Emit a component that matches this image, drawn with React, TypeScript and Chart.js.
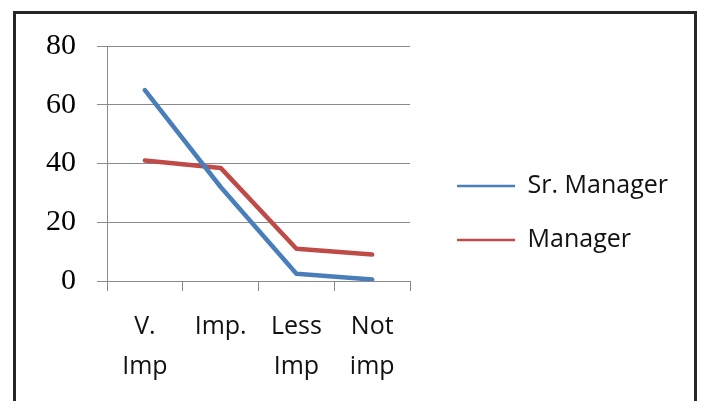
import React, { useEffect, useRef } from "react";
import { Chart, registerables } from "chart.js";

Chart.register(...registerables);

const categories: string[][] = [["V.", "Imp"], ["Imp."], ["Less", "Imp"], ["Not", "imp"]];
const seriesNames = ["Sr. Manager", "Manager"];
const srManagerValues = [65, 32, 2.5, 0.5];
const managerValues = [41, 38.5, 11, 9];
const yMin = 0;
const yMax = 80;
const yStep = 20;

const LEGEND_EXTRA = 18;

const legendGapPlugin = {
  id: "legendGap",
  beforeUpdate(chart: any) {
    const lg = chart.legend;
    if (lg && !lg.__patched) {
      const origFit = lg.fit.bind(lg);
      lg.fit = () => {
        origFit();
        lg.width += LEGEND_EXTRA;
      };
      lg.__patched = true;
    }
  },
  afterLayout(chart: any) {
    const lg = chart.legend;
    if (lg) {
      lg.left += LEGEND_EXTRA;
      lg.right += LEGEND_EXTRA;
    }
  },
};

export default function App() {
  const ref = useRef<HTMLCanvasElement | null>(null);

  useEffect(() => {
    if (!ref.current) return;
    const grid = "#8a8a8a";
    const chart = new Chart(ref.current, {
      type: "line",
      data: {
        labels: categories,
        datasets: [
          {
            label: seriesNames[0],
            data: srManagerValues,
            borderColor: "#4A7EBB",
            backgroundColor: "#4A7EBB",
            borderWidth: 4.5,
            pointRadius: 0,
            tension: 0,
            borderCapStyle: "round",
            borderJoinStyle: "round",
          },
          {
            label: seriesNames[1],
            data: managerValues,
            borderColor: "#BE4B48",
            backgroundColor: "#BE4B48",
            borderWidth: 4.5,
            pointRadius: 0,
            tension: 0,
            borderCapStyle: "round",
            borderJoinStyle: "round",
          },
        ],
      },
      options: {
        responsive: false,
        animation: false,
        devicePixelRatio: 1,
        layout: { padding: { left: 9, top: 32, right: 16, bottom: 34 } },
        plugins: {
          tooltip: { enabled: false },
          legend: {
            position: "right",
            align: "center",
            maxWidth: 400,
            labels: {
              usePointStyle: true,
              pointStyle: "line",
              pointStyleWidth: 58,
              padding: 29,
              color: "#111111",
              font: { family: "'Open Sans'", size: 25 },
              generateLabels: (c: any) =>
                (Chart.defaults.plugins.legend.labels as any)
                  .generateLabels(c)
                  .map((l: any) => ({ ...l, lineWidth: 2.5, lineCap: "butt" })),
            },
          },
        },
        scales: {
          x: {
            type: "category",
            offset: true,
            afterFit: (s: any) => {
              s.height = 99;
            },
            grid: {
              display: true,
              drawOnChartArea: false,
              drawTicks: true,
              tickLength: 10,
              offset: true,
              color: grid,
            },
            border: { display: true, color: grid },
            ticks: {
              color: "#111111",
              padding: 16,
              maxRotation: 0,
              autoSkip: false,
              font: { family: "'Open Sans'", size: 25, lineHeight: "40px" },
            },
          },
          y: {
            min: yMin,
            max: yMax,
            afterFit: (s: any) => {
              s.paddingTop = 0;
              s.paddingBottom = 0;
            },
            grid: { color: grid, tickLength: 10, drawTicks: true },
            border: { display: true, color: grid },
            ticks: {
              stepSize: yStep,
              padding: 21,
              color: "#000000",
              font: { family: "'Liberation Serif'", size: 30 },
            },
          },
        },
      },
      plugins: [legendGapPlugin],
    });
    return () => chart.destroy();
  }, []);

  return (
    <div
      style={{
        position: "absolute",
        left: 13,
        top: 11,
        width: 684,
        height: 420,
        border: "3px solid #262626",
        boxSizing: "border-box",
        background: "#ffffff",
      }}
    >
      <canvas ref={ref} width={678} height={400} style={{ display: "block" }} />
    </div>
  );
}
